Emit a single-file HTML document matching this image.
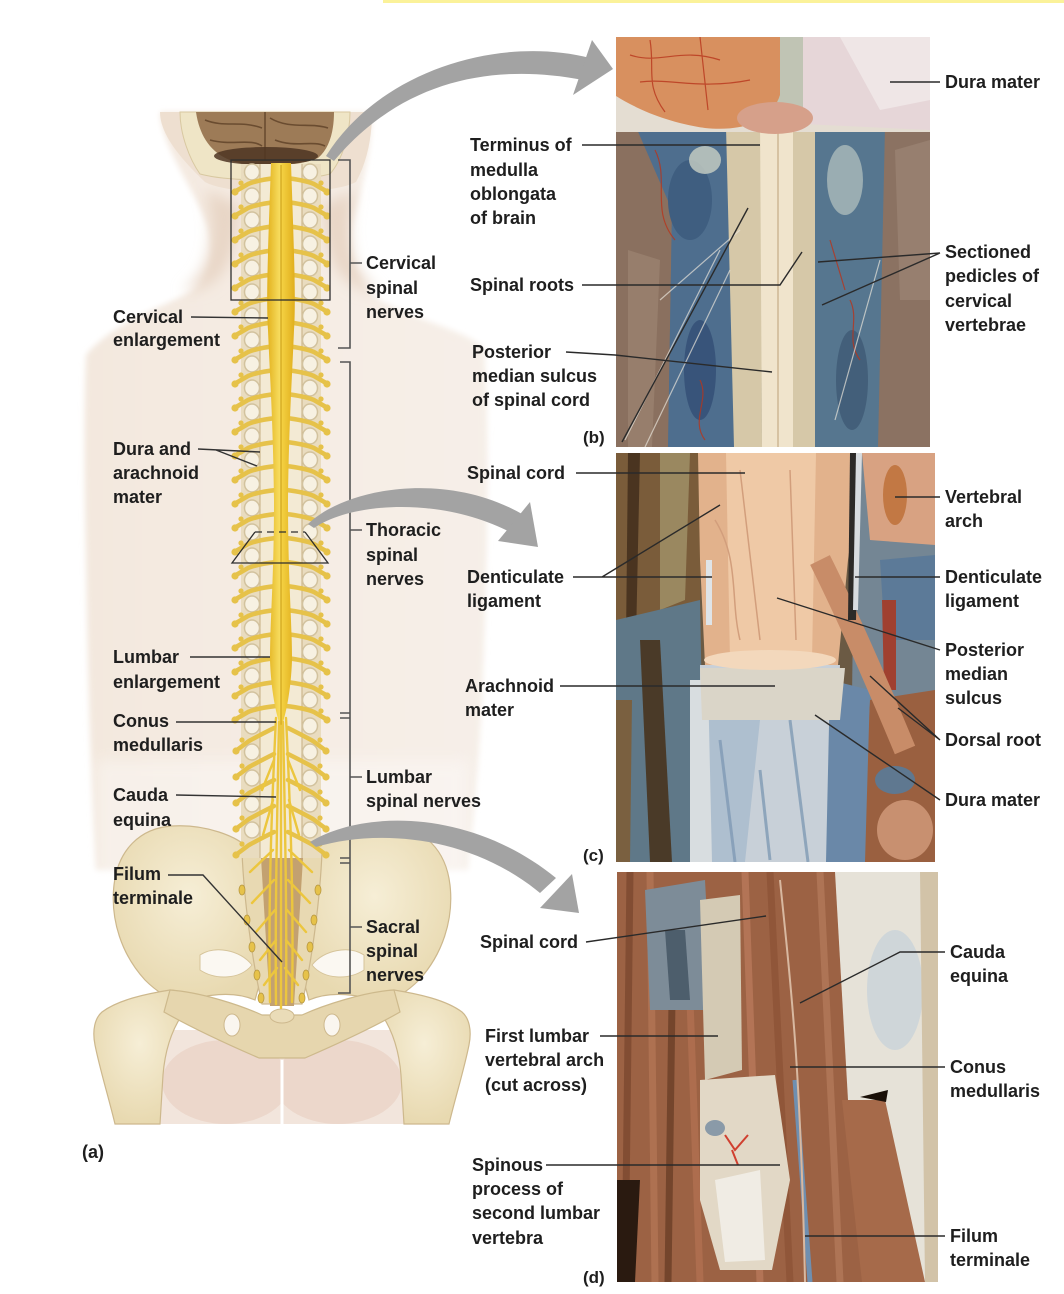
<!DOCTYPE html>
<html><head><meta charset="utf-8"><style>
html,body{margin:0;padding:0;background:#fff;}
svg{display:block}
text{font-family:"Liberation Sans",Arial,sans-serif;font-weight:bold;font-size:18px;fill:#1e1e1e}
text.s{font-size:17px}
</style></head><body>
<svg width="1064" height="1294" viewBox="0 0 1064 1294" xmlns="http://www.w3.org/2000/svg">
<defs>
 <filter id="blur8" x="-20%" y="-20%" width="140%" height="140%"><feGaussianBlur stdDeviation="7"/></filter>
 <filter id="blur3" x="-20%" y="-20%" width="140%" height="140%"><feGaussianBlur stdDeviation="3"/></filter>
 <filter id="blur1"><feGaussianBlur stdDeviation="0.8"/></filter>
 <clipPath id="cb"><rect x="616" y="37" width="314" height="410"/></clipPath>
 <clipPath id="cc"><rect x="616" y="453" width="319" height="409"/></clipPath>
 <clipPath id="cd"><rect x="617" y="872" width="321" height="410"/></clipPath>
 <radialGradient id="bone" cx="50%" cy="40%" r="60%"><stop offset="0" stop-color="#f6eed6"/><stop offset="1" stop-color="#e8d9b0"/></radialGradient>
 <linearGradient id="cordg" x1="0" x2="1"><stop offset="0" stop-color="#e2b21e"/><stop offset=".45" stop-color="#f7dc5e"/><stop offset=".55" stop-color="#f3cf40"/><stop offset="1" stop-color="#e0ae1c"/></linearGradient>
 <linearGradient id="skin" x1="0" x2="1"><stop offset="0" stop-color="#f3e8de"/><stop offset=".5" stop-color="#f5ece4"/><stop offset="1" stop-color="#f6efe8"/></linearGradient>
 <g id="lv">
  <ellipse cx="252" cy="0" rx="7.5" ry="8" fill="#f7f1e2" stroke="#d2c29e" stroke-width="1.5"/>
  <ellipse cx="310" cy="0" rx="7.5" ry="8" fill="#f7f1e2" stroke="#d2c29e" stroke-width="1.5"/>
  <path d="M276,6 Q258,8 248,12 L236,19" fill="none" stroke="#e6c24a" stroke-width="4.5" stroke-linecap="round"/>
  <path d="M286,6 Q304,8 314,12 L326,19" fill="none" stroke="#e6c24a" stroke-width="4.5" stroke-linecap="round"/>
  <circle cx="235" cy="20" r="3.6" fill="#e6c24a"/>
  <circle cx="327" cy="20" r="3.6" fill="#e6c24a"/>
  <circle cx="241" cy="11" r="2.6" fill="#e6c24a"/>
  <circle cx="321" cy="11" r="2.6" fill="#e6c24a"/>
 </g>
 <g id="lv2">
  <ellipse cx="252" cy="0" rx="7.5" ry="8" fill="#f7f1e2" stroke="#d2c29e" stroke-width="1.5"/>
  <ellipse cx="310" cy="0" rx="7.5" ry="8" fill="#f7f1e2" stroke="#d2c29e" stroke-width="1.5"/>
  <path d="M274,2 Q258,10 249,15 L237,24" fill="none" stroke="#e6c24a" stroke-width="4.5" stroke-linecap="round"/>
  <path d="M288,2 Q304,10 313,15 L325,24" fill="none" stroke="#e6c24a" stroke-width="4.5" stroke-linecap="round"/>
  <circle cx="236" cy="25" r="3.6" fill="#e6c24a"/>
  <circle cx="326" cy="25" r="3.6" fill="#e6c24a"/>
  <circle cx="242" cy="14" r="2.6" fill="#e6c24a"/>
  <circle cx="320" cy="14" r="2.6" fill="#e6c24a"/>
 </g>
</defs>

<rect width="1064" height="1294" fill="#fff"/>
<rect x="383" y="0" width="681" height="3" fill="#fbf29a"/>

<!-- ===== PANEL A ===== -->
<path d="M160,112 L372,112 C372,150 362,190 352,225 C348,250 352,280 380,300 C420,322 465,330 484,348 C490,420 488,560 482,700 C478,780 472,830 468,870 L96,870 C92,800 88,700 86,560 C84,470 84,400 86,355 C110,325 160,308 190,292 C212,278 214,252 208,228 C196,190 162,150 160,112 Z" fill="url(#skin)" filter="url(#blur3)"/>
<path d="M205,190 C218,240 210,272 182,292 C222,290 236,262 240,205 Z" fill="#e8d6c6" filter="url(#blur8)"/>
<path d="M355,190 C344,240 350,272 380,292 C340,290 324,262 322,205 Z" fill="#e8d6c6" filter="url(#blur8)"/>
<path d="M96,760 L468,760 L468,880 L96,880 Z" fill="#fff" opacity=".35" filter="url(#blur8)"/>
<!-- head -->
<path d="M160,112 L372,112 C372,135 368,160 356,182 C330,196 230,196 205,182 C182,160 160,135 160,112 Z" fill="#eedfd0"/>
<path d="M180,112 L350,112 C350,135 342,160 330,174 C300,182 230,182 200,174 C190,160 180,135 180,112 Z" fill="#efe5c6" stroke="#d8c8a0" stroke-width="1"/>
<path d="M196,112 L334,112 C334,130 330,148 318,158 C300,166 262,168 240,163 C215,158 200,140 196,112 Z" fill="#9d7b57"/>
<path d="M205,120 C225,128 240,120 262,128 M270,118 C290,130 310,122 328,128 M210,140 C232,146 250,138 262,146 M275,140 C295,148 312,140 325,146 M265,112 L265,160" fill="none" stroke="#6a4c30" stroke-width="1.6"/>
<ellipse cx="266" cy="156" rx="52" ry="9" fill="#4e3522" opacity=".85"/>

<rect x="160" y="1030" width="244" height="94" fill="#f2e5dc"/>
<ellipse cx="226" cy="1082" rx="64" ry="42" fill="#ecd7cb"/>
<ellipse cx="338" cy="1082" rx="64" ry="42" fill="#ecd7cb"/>
<path d="M282,1060 L282,1124" stroke="#fff" stroke-width="3"/>

<path d="M250,850 C238,836 205,824 172,826 C140,828 118,850 114,885 C110,920 122,955 145,980 C160,995 172,1000 182,1002 C205,995 232,990 255,1000 L266,960 L262,880 Z" fill="url(#bone)" stroke="#cdb88d" stroke-width="1.2"/>
<path d="M314,850 C326,836 359,824 392,826 C424,828 446,850 450,885 C454,920 442,955 419,980 C404,995 392,1000 382,1002 C359,995 332,990 309,1000 L298,960 L302,880 Z" fill="url(#bone)" stroke="#cdb88d" stroke-width="1.2"/>
<path d="M102,1012 C118,1000 145,994 170,990 C184,990 190,1005 182,1015 C172,1030 165,1050 163,1075 L160,1124 L115,1124 C108,1095 100,1070 95,1045 C92,1030 95,1018 102,1012 Z" fill="url(#bone)" stroke="#cdb88d" stroke-width="1.2"/>
<path d="M462,1012 C446,1000 419,994 394,990 C380,990 374,1005 382,1015 C392,1030 399,1050 401,1075 L404,1124 L449,1124 C456,1095 464,1070 469,1045 C472,1030 469,1018 462,1012 Z" fill="url(#bone)" stroke="#cdb88d" stroke-width="1.2"/>
<path d="M170,990 C200,992 240,1005 262,1015 L302,1015 C324,1005 364,992 394,990 L400,1012 C372,1028 335,1045 305,1058 L259,1058 C229,1045 192,1028 164,1012 Z" fill="#e6d6ae" stroke="#cdb98c" stroke-width="1.2"/>
<ellipse cx="232" cy="1025" rx="8" ry="11" fill="#faf6ef" stroke="#cdb88d"/>
<ellipse cx="332" cy="1025" rx="8" ry="11" fill="#faf6ef" stroke="#cdb88d"/>
<path d="M200,955 C215,945 240,950 252,965 C240,980 215,980 200,970 Z" fill="#fbf8f2" stroke="#d6c49a"/>
<path d="M364,955 C349,945 324,950 312,965 C324,980 349,980 364,970 Z" fill="#fbf8f2" stroke="#d6c49a"/>

<path d="M242,852 L322,852 C320,900 312,960 302,1004 L262,1004 C252,960 244,900 242,852 Z" fill="#e8d9b2" stroke="#cdb88d" stroke-width="1.2"/>
<path d="M261,858 L303,858 L294,1006 L270,1006 Z" fill="#c3a170"/>
<ellipse cx="282" cy="1016" rx="12" ry="7" fill="#eadcb8" stroke="#cdb88d"/>
<g fill="#e6c24a" stroke="#b89840" stroke-width="0.8">
 <ellipse cx="242" cy="890" rx="3" ry="5"/><ellipse cx="247" cy="920" rx="3" ry="5"/><ellipse cx="252" cy="947" rx="3" ry="5"/><ellipse cx="257" cy="975" rx="3" ry="5"/><ellipse cx="261" cy="998" rx="3" ry="5"/>
 <ellipse cx="318" cy="890" rx="3" ry="5"/><ellipse cx="314" cy="920" rx="3" ry="5"/><ellipse cx="310" cy="947" rx="3" ry="5"/><ellipse cx="306" cy="975" rx="3" ry="5"/><ellipse cx="302" cy="998" rx="3" ry="5"/>
</g>

<rect x="241" y="164" width="80" height="694" fill="#e9dcbf"/>
<rect x="260" y="164" width="42" height="694" fill="#f3ead4"/>
<path d="M260,164 L260,858 M302,164 L302,858" stroke="#cdb78f" stroke-width="1.2"/>
<use href="#lv" y="172"/><use href="#lv" y="196"/><use href="#lv" y="220"/><use href="#lv" y="244"/>
<use href="#lv" y="268"/><use href="#lv" y="292"/><use href="#lv" y="316"/><use href="#lv" y="340"/>
<use href="#lv" y="364"/><use href="#lv" y="388"/><use href="#lv" y="412"/><use href="#lv" y="436"/>
<use href="#lv" y="460"/><use href="#lv" y="484"/><use href="#lv" y="508"/><use href="#lv" y="532"/>
<use href="#lv" y="556"/><use href="#lv" y="580"/><use href="#lv" y="604"/><use href="#lv" y="628"/>
<use href="#lv" y="652"/><use href="#lv" y="676"/><use href="#lv" y="700"/>
<use href="#lv2" y="726"/><use href="#lv2" y="752"/><use href="#lv2" y="778"/><use href="#lv2" y="804"/><use href="#lv2" y="830"/>
<path d="M271,163 C268,250 266,300 268,330 C270,380 273,420 274,500 C274,580 270,620 270,660 C271,690 276,715 281,728 C286,715 291,690 292,660 C292,620 288,580 288,500 C289,420 292,380 294,330 C296,300 294,250 291,163 Z" fill="url(#cordg)"/>
<path d="M281,165 L281,726" stroke="#c89a10" stroke-width="1"/>
<g fill="none" stroke="#ecc63e" stroke-width="2.4" stroke-linecap="round">
 <path d="M276,718 C272,800 268,900 270,1002"/>
 <path d="M279,722 C277,820 275,920 276,1004"/>
 <path d="M281,726 L281,1008"/>
 <path d="M283,722 C285,820 287,920 286,1004"/>
 <path d="M286,718 C290,800 294,900 292,1002"/>
 <path d="M273,850 L250,872 M274,880 L252,903 M275,910 L256,932 M276,940 L260,960 M277,968 L264,985"/>
 <path d="M289,850 L312,872 M288,880 L310,903 M287,910 L306,932 M286,940 L302,960 M285,968 L298,985"/>
 <path d="M274,760 L262,790 M288,760 L300,790 M273,800 L263,835 M289,800 L299,835"/>
</g>

<rect x="231" y="160" width="99" height="140" fill="none" stroke="#2e2e2e" stroke-width="1.3"/>
<path d="M255,532 L305,532" stroke="#2e2e2e" stroke-width="1.3" stroke-dasharray="7,5"/>
<path d="M255,532 L232,563 L328,563 L305,532" fill="none" stroke="#2e2e2e" stroke-width="1.3"/>

<g stroke="#555" stroke-width="1.6" fill="none">
 <path d="M338,160 L350,160 L350,348 L338,348 M350,263 L362,263"/>
 <path d="M340,362 L350,362 L350,993 L338,993"/>
 <path d="M340,713 L350,713 M340,718 L350,718 M340,858 L350,858 M340,863 L350,863"/>
 <path d="M350,530 L362,530 M350,777 L362,777 M350,927 L362,927"/>
</g>

<g stroke="#333" stroke-width="1.4" fill="none">
 <path d="M191,317 L268,318"/>
 <path d="M198,449 L260,452 M216,450 L257,466"/>
 <path d="M190,657 L270,657"/>
 <path d="M176,722 L276,722"/>
 <path d="M176,795 L276,797"/>
 <path d="M168,875 L203,875 L282,962"/>
</g>

<g fill="#a3a3a3">
 <path d="M326,156 C380,70 500,35 590,58 L583,80 C490,62 400,82 334,161 Z"/>
 <path d="M592,40 L613,69 L573,95 Z"/>
 <path d="M308,524 C345,488 445,470 522,514 L508,531 C440,497 352,502 314,528 Z"/>
 <path d="M530,502 L538,547 L498,541 Z"/>
 <path d="M310,842 C362,810 470,808 556,878 L540,893 C466,832 372,830 316,847 Z"/>
 <path d="M572,874 L579,913 L540,908 Z"/>
</g>

<text x="113" y="323">Cervical</text>
<text x="113" y="346">enlargement</text>
<text x="113" y="455">Dura and</text>
<text x="113" y="479">arachnoid</text>
<text x="113" y="503">mater</text>
<text x="113" y="663">Lumbar</text>
<text x="113" y="688">enlargement</text>
<text x="113" y="727">Conus</text>
<text x="113" y="751">medullaris</text>
<text x="113" y="801">Cauda</text>
<text x="113" y="826">equina</text>
<text x="113" y="880">Filum</text>
<text x="113" y="904">terminale</text>
<text x="82" y="1158">(a)</text>
<text x="366" y="269">Cervical</text>
<text x="366" y="294">spinal</text>
<text x="366" y="318">nerves</text>
<text x="366" y="536">Thoracic</text>
<text x="366" y="561">spinal</text>
<text x="366" y="585">nerves</text>
<text x="366" y="783">Lumbar</text>
<text x="366" y="807">spinal nerves</text>
<text x="366" y="933">Sacral</text>
<text x="366" y="957">spinal</text>
<text x="366" y="981">nerves</text>

<!-- ===== PHOTO B ===== -->
<g clip-path="url(#cb)">
 <rect x="616" y="37" width="314" height="410" fill="#66707a"/>
 <path d="M616,127 L642,127 L672,210 L668,447 L616,447Z" fill="#8a705f"/>
 <path d="M628,250 L660,260 L652,447 L628,447Z" fill="#9c8472" opacity=".7"/>
 <path d="M636,127 L728,127 L734,447 L668,447 L672,210Z" fill="#4e6e8e"/>
 <ellipse cx="690" cy="200" rx="22" ry="40" fill="#3f5e80"/>
 <ellipse cx="700" cy="370" rx="16" ry="50" fill="#38547a"/>
 <ellipse cx="705" cy="160" rx="16" ry="14" fill="#c9cfc4" opacity=".8"/>
 <path d="M726,127 L761,118 L762,447 L734,447Z" fill="#d6c8a8"/>
 <path d="M760,117 L795,117 L793,447 L762,447Z" fill="#f0e4cc"/>
 <path d="M778,120 L778,447" stroke="#c9b08c" stroke-width="1.3"/>
 <path d="M793,118 L820,125 L818,447 L793,447Z" fill="#d6c8a8"/>
 <path d="M815,127 L885,127 L880,447 L815,447Z" fill="#56768f"/>
 <ellipse cx="845" cy="180" rx="18" ry="35" fill="#b8c4c0" opacity=".7"/>
 <ellipse cx="852" cy="380" rx="16" ry="50" fill="#3f5a74" opacity=".8"/>
 <path d="M885,127 L930,120 L930,447 L878,447Z" fill="#8b7262"/>
 <path d="M895,150 L930,140 L930,300 L900,300Z" fill="#a08878" opacity=".6"/>
 <rect x="616" y="37" width="314" height="95" fill="#e4ddd2"/>
 <path d="M773,37 L805,37 L805,122 L773,122Z" fill="#c0c4b4"/>
 <path d="M803,37 L930,37 L930,130 L803,124Z" fill="#e6d6d8"/>
 <path d="M840,37 L930,37 L930,100 L880,110Z" fill="#efe6e6"/>
 <path d="M616,37 L780,37 L780,95 C772,120 745,132 705,128 C665,122 635,108 616,96 Z" fill="#d8905f"/>
 <ellipse cx="775" cy="118" rx="38" ry="16" fill="#d6a08a"/>
 <g fill="none" stroke="#b8341c" stroke-width="1.2" opacity=".8">
  <path d="M630,55 C660,65 680,47 720,60 M640,82 C670,78 700,90 750,80 M700,37 L708,110 M650,40 C655,70 645,85 665,112"/>
  <path d="M655,150 C670,180 650,210 675,240 M700,380 C710,400 690,420 705,440 M850,300 C860,320 845,340 860,360 M830,240 L845,290"/>
 </g>
 <g stroke="#e8e4da" stroke-width="1.2" opacity=".7">
  <path d="M625,440 L720,250 M645,447 L730,270 M835,420 L880,260 M660,300 L740,230"/>
 </g>
</g>
<g stroke="#2a2a2a" stroke-width="1.4" fill="none">
 <path d="M890,82 L940,82"/>
 <path d="M582,145 L760,145"/>
 <path d="M582,285 L780,285 L802,252"/>
 <path d="M622,442 L748,208"/>
 <path d="M566,352 L615,355 L772,372"/>
 <path d="M940,253 L818,262 M940,253 L822,305"/>
</g>
<text x="945" y="88">Dura mater</text>
<text x="470" y="151">Terminus of</text>
<text x="470" y="176">medulla</text>
<text x="470" y="200">oblongata</text>
<text x="470" y="224">of brain</text>
<text x="470" y="291">Spinal roots</text>
<text x="472" y="358">Posterior</text>
<text x="472" y="382">median sulcus</text>
<text x="472" y="406">of spinal cord</text>
<text x="583" y="443" class="s">(b)</text>
<text x="945" y="258">Sectioned</text>
<text x="945" y="282">pedicles of</text>
<text x="945" y="307">cervical</text>
<text x="945" y="331">vertebrae</text>

<!-- ===== PHOTO C ===== -->
<g clip-path="url(#cc)">
 <rect x="616" y="453" width="319" height="409" fill="#6b5a44"/>
 <path d="M616,453 L700,453 L700,620 L616,640Z" fill="#7a5c3a"/>
 <path d="M628,453 L640,453 L636,640 L626,640Z" fill="#4a3420"/>
 <path d="M660,453 L690,453 L685,600 L660,610Z" fill="#9a8860"/>
 <path d="M616,620 L700,600 L705,862 L616,862Z" fill="#5f7888"/>
 <path d="M640,640 L660,640 L672,862 L650,862Z" fill="#4a3a28"/>
 <path d="M616,700 L632,700 L630,862 L616,862Z" fill="#7a6040"/>
 <path d="M855,453 L935,453 L935,862 L850,862Z" fill="#748694"/>
 <path d="M862,453 L935,453 L935,545 L870,540Z" fill="#d8a282"/>
 <ellipse cx="895" cy="495" rx="12" ry="30" fill="#c27844"/>
 <path d="M880,560 L935,555 L935,640 L885,640Z" fill="#5c7a98"/>
 <path d="M882,600 L896,600 L896,690 L884,690Z" fill="#a04030"/>
 <path d="M870,700 L935,690 L935,862 L860,862Z" fill="#9a6040"/>
 <ellipse cx="905" cy="830" rx="28" ry="30" fill="#c89070"/>
 <ellipse cx="895" cy="780" rx="20" ry="14" fill="#5f7890"/>
 <path d="M700,665 L840,665 L832,862 L700,862Z" fill="#c8d0d8"/>
 <path d="M705,720 L760,720 L745,862 L706,862Z" fill="#aebfcf"/>
 <path d="M830,680 L870,690 L865,862 L826,862Z" fill="#6a88a8"/>
 <path d="M690,680 L708,680 L712,862 L690,862Z" fill="#d8dde0"/>
 <g stroke="#7f9ab4" stroke-width="3" fill="none" opacity=".8"><path d="M720,740 L735,862 M790,720 L808,862 M760,770 L770,860"/></g>
 <path d="M700,668 L845,668 L840,720 L702,720Z" fill="#dad5c8"/>
 <path d="M698,453 L862,453 L848,560 L838,665 L705,665 L700,560 Z" fill="#e2b28c"/>
 <path d="M726,453 L816,453 L812,660 L730,660Z" fill="#efc9a6"/>
 <ellipse cx="770" cy="660" rx="66" ry="10" fill="#f3d8bc"/>
 <path d="M820,560 C850,620 880,690 905,750" stroke="#c88c68" stroke-width="22" fill="none"/>
 <path d="M706,560 L712,560 L712,625 L706,625Z" fill="#dfe4e8"/>
 <path d="M850,453 L860,453 L856,620 L848,620Z" fill="#2c2a28"/>
 <path d="M856,453 L862,453 L858,610 L853,610Z" fill="#d8dce0"/>
 <path d="M740,470 L760,640 M790,470 L796,640 M715,520 C740,560 730,600 740,640" stroke="#d29e7c" stroke-width="1.5" fill="none"/>
</g>
<g stroke="#2a2a2a" stroke-width="1.4" fill="none">
 <path d="M576,473 L745,473"/>
 <path d="M573,577 L712,577 M602,577 L720,505"/>
 <path d="M895,497 L940,497"/>
 <path d="M855,577 L940,577"/>
 <path d="M940,650 L777,598"/>
 <path d="M560,686 L775,686"/>
 <path d="M940,740 L870,676 M940,740 L898,708"/>
 <path d="M940,800 L815,715"/>
</g>
<text x="467" y="479">Spinal cord</text>
<text x="467" y="583">Denticulate</text>
<text x="467" y="607">ligament</text>
<text x="465" y="692">Arachnoid</text>
<text x="465" y="716">mater</text>
<text x="583" y="861" class="s">(c)</text>
<text x="945" y="503">Vertebral</text>
<text x="945" y="527">arch</text>
<text x="945" y="583">Denticulate</text>
<text x="945" y="607">ligament</text>
<text x="945" y="656">Posterior</text>
<text x="945" y="680">median</text>
<text x="945" y="704">sulcus</text>
<text x="945" y="746">Dorsal root</text>
<text x="945" y="806">Dura mater</text>

<!-- ===== PHOTO D ===== -->
<g clip-path="url(#cd)">
 <rect x="617" y="872" width="321" height="410" fill="#9c6244"/>
 <g fill="none" stroke-width="7" opacity=".85">
  <path d="M630,872 L625,1282" stroke="#7e4a30"/>
  <path d="M650,872 L655,1282" stroke="#b27454"/>
  <path d="M672,1000 L668,1282" stroke="#6e4028"/>
  <path d="M690,1000 L700,1282" stroke="#b07050"/>
  <path d="M745,872 L760,1282" stroke="#b8785a"/>
  <path d="M770,872 L790,1282" stroke="#8e5438"/>
  <path d="M820,872 L840,1282" stroke="#b27858"/>
 </g>
 <path d="M617,1180 L640,1180 L635,1282 L617,1282Z" fill="#2a1a10"/>
 <path d="M645,890 L705,880 L712,1010 L650,1010Z" fill="#7d8c98"/>
 <path d="M665,930 L685,930 L690,1000 L670,1000Z" fill="#4d5e6c"/>
 <path d="M700,900 L740,895 L742,1070 L705,1080Z" fill="#d4cab4"/>
 <path d="M700,1080 L775,1075 L790,1180 L772,1270 L720,1270 L700,1200Z" fill="#e2d8c6"/>
 <path d="M715,1180 L760,1170 L765,1260 L725,1262Z" fill="#f0ece4"/>
 <path d="M835,872 L938,872 L938,1282 L910,1282 L848,1100Z" fill="#e6e2d8"/>
 <ellipse cx="895" cy="990" rx="28" ry="60" fill="#c9d3da" opacity=".8"/>
 <path d="M920,872 L938,872 L938,1282 L925,1282Z" fill="#d2c3a8"/>
 <path d="M842,1100 L885,1100 L925,1282 L862,1282Z" fill="#a66a4a"/>
 <path d="M860,1097 L888,1090 L886,1102Z" fill="#1a1008"/>
 <path d="M795,1080 L810,1282" stroke="#6f8fb0" stroke-width="5"/>
 <path d="M780,880 C790,980 800,1050 805,1282" stroke="#d8b8a0" stroke-width="2" fill="none"/>
 <g stroke="#d04030" stroke-width="2" fill="none"><path d="M725,1135 L735,1150 L748,1135 M732,1150 L738,1165"/></g>
 <ellipse cx="715" cy="1128" rx="10" ry="8" fill="#8a9aa8"/>
</g>
<g stroke="#2a2a2a" stroke-width="1.4" fill="none">
 <path d="M586,942 L766,916"/>
 <path d="M945,952 L900,952 L800,1003"/>
 <path d="M600,1036 L718,1036"/>
 <path d="M945,1067 L790,1067"/>
 <path d="M546,1165 L780,1165"/>
 <path d="M945,1236 L805,1236"/>
</g>
<text x="480" y="948">Spinal cord</text>
<text x="485" y="1042">First lumbar</text>
<text x="485" y="1066">vertebral arch</text>
<text x="485" y="1091">(cut across)</text>
<text x="472" y="1171">Spinous</text>
<text x="472" y="1195">process of</text>
<text x="472" y="1219">second lumbar</text>
<text x="472" y="1244">vertebra</text>
<text x="583" y="1283" class="s">(d)</text>
<text x="950" y="958">Cauda</text>
<text x="950" y="982">equina</text>
<text x="950" y="1073">Conus</text>
<text x="950" y="1097">medullaris</text>
<text x="950" y="1242">Filum</text>
<text x="950" y="1266">terminale</text>
</svg>
</body></html>
